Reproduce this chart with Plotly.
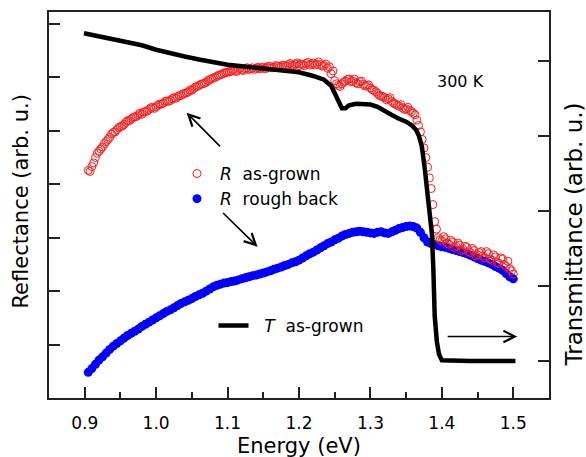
import plotly.graph_objects as go

# ---------------- data ----------------
energy_R = [
    0.905, 0.910, 0.915, 0.920, 0.925, 0.930, 0.935, 0.940, 0.945, 0.950,
    0.955, 0.960, 0.965, 0.970, 0.975, 0.980, 0.985, 0.990, 0.995, 1.000,
    1.005, 1.010, 1.015, 1.020, 1.025, 1.030, 1.035, 1.040, 1.045, 1.050,
    1.055, 1.060, 1.065, 1.070, 1.075, 1.080, 1.085, 1.090, 1.095, 1.100,
    1.105, 1.110, 1.115, 1.120, 1.125, 1.130, 1.135, 1.140, 1.145, 1.150,
    1.155, 1.160, 1.165, 1.170, 1.175, 1.180, 1.185, 1.190, 1.195, 1.200,
    1.205, 1.210, 1.215, 1.220, 1.225, 1.230, 1.235, 1.240, 1.245, 1.250,
    1.255, 1.260, 1.265, 1.270, 1.275, 1.280, 1.285, 1.290, 1.295, 1.300,
    1.305, 1.310, 1.315, 1.320, 1.325, 1.330, 1.335, 1.340, 1.345, 1.350,
    1.355, 1.360, 1.365, 1.370, 1.375, 1.380, 1.385, 1.390, 1.395, 1.400,
    1.405, 1.410, 1.415, 1.420, 1.425, 1.430, 1.435, 1.440, 1.445, 1.450,
    1.455, 1.460, 1.465, 1.470, 1.475, 1.480, 1.485, 1.490, 1.495, 1.500,
]

R_as_grown = [
    4.26, 4.33, 4.50, 4.62, 4.70, 4.80, 4.88, 4.97, 5.02, 5.08,
    5.12, 5.19, 5.22, 5.26, 5.30, 5.31, 5.36, 5.40, 5.44, 5.45,
    5.50, 5.52, 5.56, 5.57, 5.62, 5.64, 5.66, 5.70, 5.73, 5.76,
    5.82, 5.85, 5.88, 5.91, 5.96, 5.99, 6.02, 6.05, 6.08, 6.10,
    6.12, 6.12, 6.15, 6.14, 6.16, 6.15, 6.18, 6.17, 6.16, 6.19,
    6.18, 6.20, 6.19, 6.21, 6.20, 6.22, 6.24, 6.23, 6.25, 6.22,
    6.24, 6.26, 6.23, 6.27, 6.25, 6.24, 6.22, 6.17, 6.07, 5.94,
    5.85, 5.88, 5.93, 5.97, 5.93, 5.90, 5.92, 5.87, 5.85, 5.80,
    5.76, 5.70, 5.65, 5.62, 5.60, 5.55, 5.50, 5.46, 5.43, 5.41,
    5.38, 5.33, 5.20, 4.98, 4.68, 4.32, 3.92, 3.30, 3.00, 2.94,
    2.98, 2.88, 2.92, 2.84, 2.86, 2.78, 2.82, 2.72, 2.76, 2.68,
    2.74, 2.62, 2.70, 2.58, 2.64, 2.52, 2.60, 2.46, 2.42, 2.32,
]

# second interleaved sweep of the as-grown reflectance
energy_R_b = [
    0.9075, 0.9125, 0.9175, 0.9225, 0.9275, 0.9325, 0.9375, 0.9425, 0.9475, 0.9525,
    0.9575, 0.9625, 0.9675, 0.9725, 0.9775, 0.9825, 0.9875, 0.9925, 0.9975, 1.0025,
    1.0075, 1.0125, 1.0175, 1.0225, 1.0275, 1.0325, 1.0375, 1.0425, 1.0475, 1.0525,
    1.0575, 1.0625, 1.0675, 1.0725, 1.0775, 1.0825, 1.0875, 1.0925, 1.0975, 1.1025,
    1.1075, 1.1125, 1.1175, 1.1225, 1.1275, 1.1325, 1.1375, 1.1425, 1.1475, 1.1525,
    1.1575, 1.1625, 1.1675, 1.1725, 1.1775, 1.1825, 1.1875, 1.1925, 1.1975, 1.2025,
    1.2075, 1.2125, 1.2175, 1.2225, 1.2275, 1.2325, 1.2375, 1.2425, 1.2475, 1.2525,
    1.2575, 1.2625, 1.2675, 1.2725, 1.2775, 1.2825, 1.2875, 1.2925, 1.2975, 1.3025,
    1.3075, 1.3125, 1.3175, 1.3225, 1.3275, 1.3325, 1.3375, 1.3425, 1.3475, 1.3525,
    1.3575, 1.3625, 1.3675, 1.3725, 1.3775, 1.3825, 1.3875, 1.3925, 1.3975, 1.4025,
    1.4075, 1.4125, 1.4175, 1.4225, 1.4275, 1.4325, 1.4375, 1.4425, 1.4475, 1.4525,
    1.4575, 1.4625, 1.4675, 1.4725, 1.4775, 1.4825, 1.4875, 1.4925, 1.4975,
]

R_as_grown_b = [
    4.24, 4.40, 4.58, 4.66, 4.76, 4.84, 4.94, 4.98, 5.06, 5.09,
    5.16, 5.19, 5.25, 5.27, 5.33, 5.35, 5.37, 5.43, 5.42, 5.48,
    5.50, 5.55, 5.55, 5.60, 5.61, 5.66, 5.69, 5.71, 5.76, 5.79,
    5.83, 5.87, 5.89, 5.94, 5.97, 6.00, 6.04, 6.06, 6.09, 6.10,
    6.14, 6.11, 6.17, 6.13, 6.18, 6.16, 6.15, 6.19, 6.18, 6.16,
    6.21, 6.18, 6.22, 6.19, 6.23, 6.21, 6.26, 6.22, 6.27, 6.25,
    6.22, 6.28, 6.25, 6.23, 6.29, 6.21, 6.25, 6.20, 6.12, 5.88,
    5.83, 5.91, 5.96, 5.92, 5.97, 5.88, 5.93, 5.84, 5.86, 5.77,
    5.73, 5.66, 5.64, 5.58, 5.62, 5.52, 5.48, 5.49, 5.40, 5.44,
    5.36, 5.30, 5.10, 4.84, 4.50, 4.12, 3.62, 3.16, 2.96, 3.02,
    2.90, 2.95, 2.82, 2.90, 2.76, 2.84, 2.74, 2.80, 2.66, 2.72,
    2.66, 2.74, 2.60, 2.68, 2.54, 2.62, 2.50, 2.56, 2.38,
]

R_rough_back = [
    0.48, 0.55, 0.63, 0.71, 0.77, 0.84, 0.91, 0.97, 1.02, 1.07,
    1.12, 1.17, 1.21, 1.25, 1.29, 1.34, 1.38, 1.42, 1.46, 1.50,
    1.54, 1.58, 1.62, 1.65, 1.69, 1.73, 1.77, 1.80, 1.83, 1.86,
    1.90, 1.93, 1.96, 2.00, 2.04, 2.08, 2.11, 2.13, 2.15, 2.16,
    2.18, 2.19, 2.21, 2.23, 2.25, 2.27, 2.29, 2.30, 2.32, 2.34,
    2.36, 2.38, 2.41, 2.43, 2.45, 2.48, 2.50, 2.53, 2.55, 2.58,
    2.62, 2.66, 2.70, 2.73, 2.77, 2.81, 2.85, 2.89, 2.92, 2.96,
    2.99, 3.03, 3.06, 3.08, 3.10, 3.11, 3.12, 3.11, 3.10, 3.09,
    3.08, 3.10, 3.11, 3.09, 3.08, 3.11, 3.14, 3.17, 3.19, 3.21,
    3.22, 3.21, 3.18, 3.10, 3.00, 2.92, 2.89, 2.87, 2.85, 2.83,
    2.82, 2.80, 2.78, 2.76, 2.74, 2.72, 2.70, 2.67, 2.64, 2.61,
    2.58, 2.56, 2.53, 2.50, 2.46, 2.43, 2.39, 2.33, 2.27, 2.23,
]

energy_T = [
    0.899, 0.920, 0.940, 0.960, 0.980, 1.000, 1.020, 1.040, 1.060, 1.080,
    1.100, 1.120, 1.140, 1.160, 1.180, 1.200, 1.220, 1.235, 1.245, 1.250,
    1.255, 1.260, 1.265, 1.270, 1.280, 1.290, 1.300, 1.310, 1.320, 1.330,
    1.340, 1.350, 1.358, 1.364, 1.368, 1.372, 1.376, 1.380, 1.383, 1.386,
    1.388, 1.390, 1.393, 1.396, 1.400, 1.420, 1.440, 1.460, 1.480, 1.503,
]

T_as_grown = [
    4.37, 4.33, 4.29, 4.25, 4.21, 4.15, 4.10, 4.06, 4.02, 3.98,
    3.95, 3.93, 3.91, 3.90, 3.88, 3.85, 3.80, 3.75, 3.67, 3.57,
    3.45, 3.37, 3.37, 3.41, 3.43, 3.43, 3.42, 3.39, 3.33, 3.28,
    3.23, 3.19, 3.14, 3.08, 3.00, 2.86, 2.57, 2.22, 1.95, 1.70,
    1.25, 0.60, 0.26, 0.09, 0.01, 0.00, 0.00, 0.00, 0.00, 0.00,
]

x_ticks = [0.9, 1.0, 1.1, 1.2, 1.3, 1.4, 1.5]
left_ticks = [1, 2, 3, 4, 5, 6, 7]
right_ticks = [0, 1, 2, 3, 4]

FONT = "DejaVu Sans"
AX = "#222222"

fig = go.Figure()

fig.add_trace(go.Scatter(
    x=energy_R, y=R_rough_back, mode="markers",
    name="<i>R</i>\u00a0\u00a0rough back", legend="legend", legendrank=2,
    marker=dict(symbol="circle", size=9, color="#0000ff",
                line=dict(width=0, color="#0000ff")),
    yaxis="y",
))
fig.add_trace(go.Scatter(
    x=energy_R + energy_R_b, y=R_as_grown + R_as_grown_b, mode="markers",
    name="<i>R</i>\u00a0\u00a0as-grown", legend="legend", legendrank=1,
    marker=dict(symbol="circle-open", size=8, color="#ff1a1a",
                line=dict(width=1, color="#ff1a1a")),
    yaxis="y",
))
fig.add_trace(go.Scatter(
    x=energy_T, y=T_as_grown, mode="lines",
    name="\u00a0\u00a0<i>T</i>\u00a0\u00a0as-grown", legend="legend2",
    line=dict(color="black", width=4.5),
    yaxis="y2",
))

axis_common = dict(
    showline=True, linecolor=AX, linewidth=1.5,
    ticks="inside", tickcolor=AX, tickwidth=1.5, ticklen=11,
    showgrid=False, zeroline=False, automargin=False,
)

fig.update_layout(
    width=586, height=457,
    margin=dict(l=49, r=37, t=12, b=59),
    plot_bgcolor="white", paper_bgcolor="white",
    font=dict(family=FONT, color="black", size=16),
    xaxis=dict(
        **axis_common, mirror=True,
        range=[0.85, 1.55], tickmode="array", tickvals=x_ticks,
        ticktext=[f"{v:.1f}" for v in x_ticks],
        tickfont=dict(family=FONT, size=17, color="black"),
        ticklabelstandoff=9,
        minor=dict(ticks="inside", ticklen=6, tickwidth=1.5, tickcolor=AX,
                   tickmode="linear", tick0=0.85, dtick=0.05),
    ),
    yaxis=dict(
        **axis_common, range=[0, 7.224], tickmode="array",
        tickvals=left_ticks, showticklabels=False,
    ),
    yaxis2=dict(
        **axis_common, overlaying="y", side="right",
        range=[-0.493, 4.653], tickmode="array",
        tickvals=right_ticks, showticklabels=False,
    ),
    legend=dict(
        x=0.25, y=0.627, xanchor="left", yanchor="top",
        bgcolor="rgba(0,0,0,0)", font=dict(size=17), itemwidth=36,
    ),
    legend2=dict(
        x=0.329, y=0.233, xanchor="left", yanchor="top",
        bgcolor="rgba(0,0,0,0)", font=dict(size=17),
    ),
    showlegend=True,
)

annotations = [
    dict(text="Energy (eV)", xref="paper", yref="paper",
         x=0.5, y=-0.124, showarrow=False,
         font=dict(size=21), xanchor="center", yanchor="middle"),
    dict(text="Reflectance (arb. u.)", xref="paper", yref="paper",
         x=-0.056, y=0.509, textangle=-90, showarrow=False,
         font=dict(size=21), xanchor="center", yanchor="middle"),
    dict(text="Transmittance (arb. u.)", xref="paper", yref="paper",
         x=1.05, y=0.4236, textangle=-90, showarrow=False,
         font=dict(size=23), xanchor="center", yanchor="middle"),
    dict(text="300 K", xref="x", yref="y", x=1.4266, y=5.93,
         showarrow=False, font=dict(size=16)),
]
arrows = [
    ((1.0427, 5.34), (1.0916, 4.68)),
    ((1.142, 2.83), (1.0916, 3.49)),
    ((1.5056, 1.15), (1.406, 1.15)),
]
for (hx, hy), (tx, ty) in arrows:
    annotations.append(dict(
        x=hx, y=hy, ax=tx, ay=ty, xref="x", yref="y", axref="x", ayref="y",
        text="", showarrow=True, arrowhead=5, arrowsize=1.4,
        arrowwidth=1.6, arrowcolor="black", standoff=0,
    ))
fig.update_layout(annotations=annotations)

fig.write_html("out.html")
